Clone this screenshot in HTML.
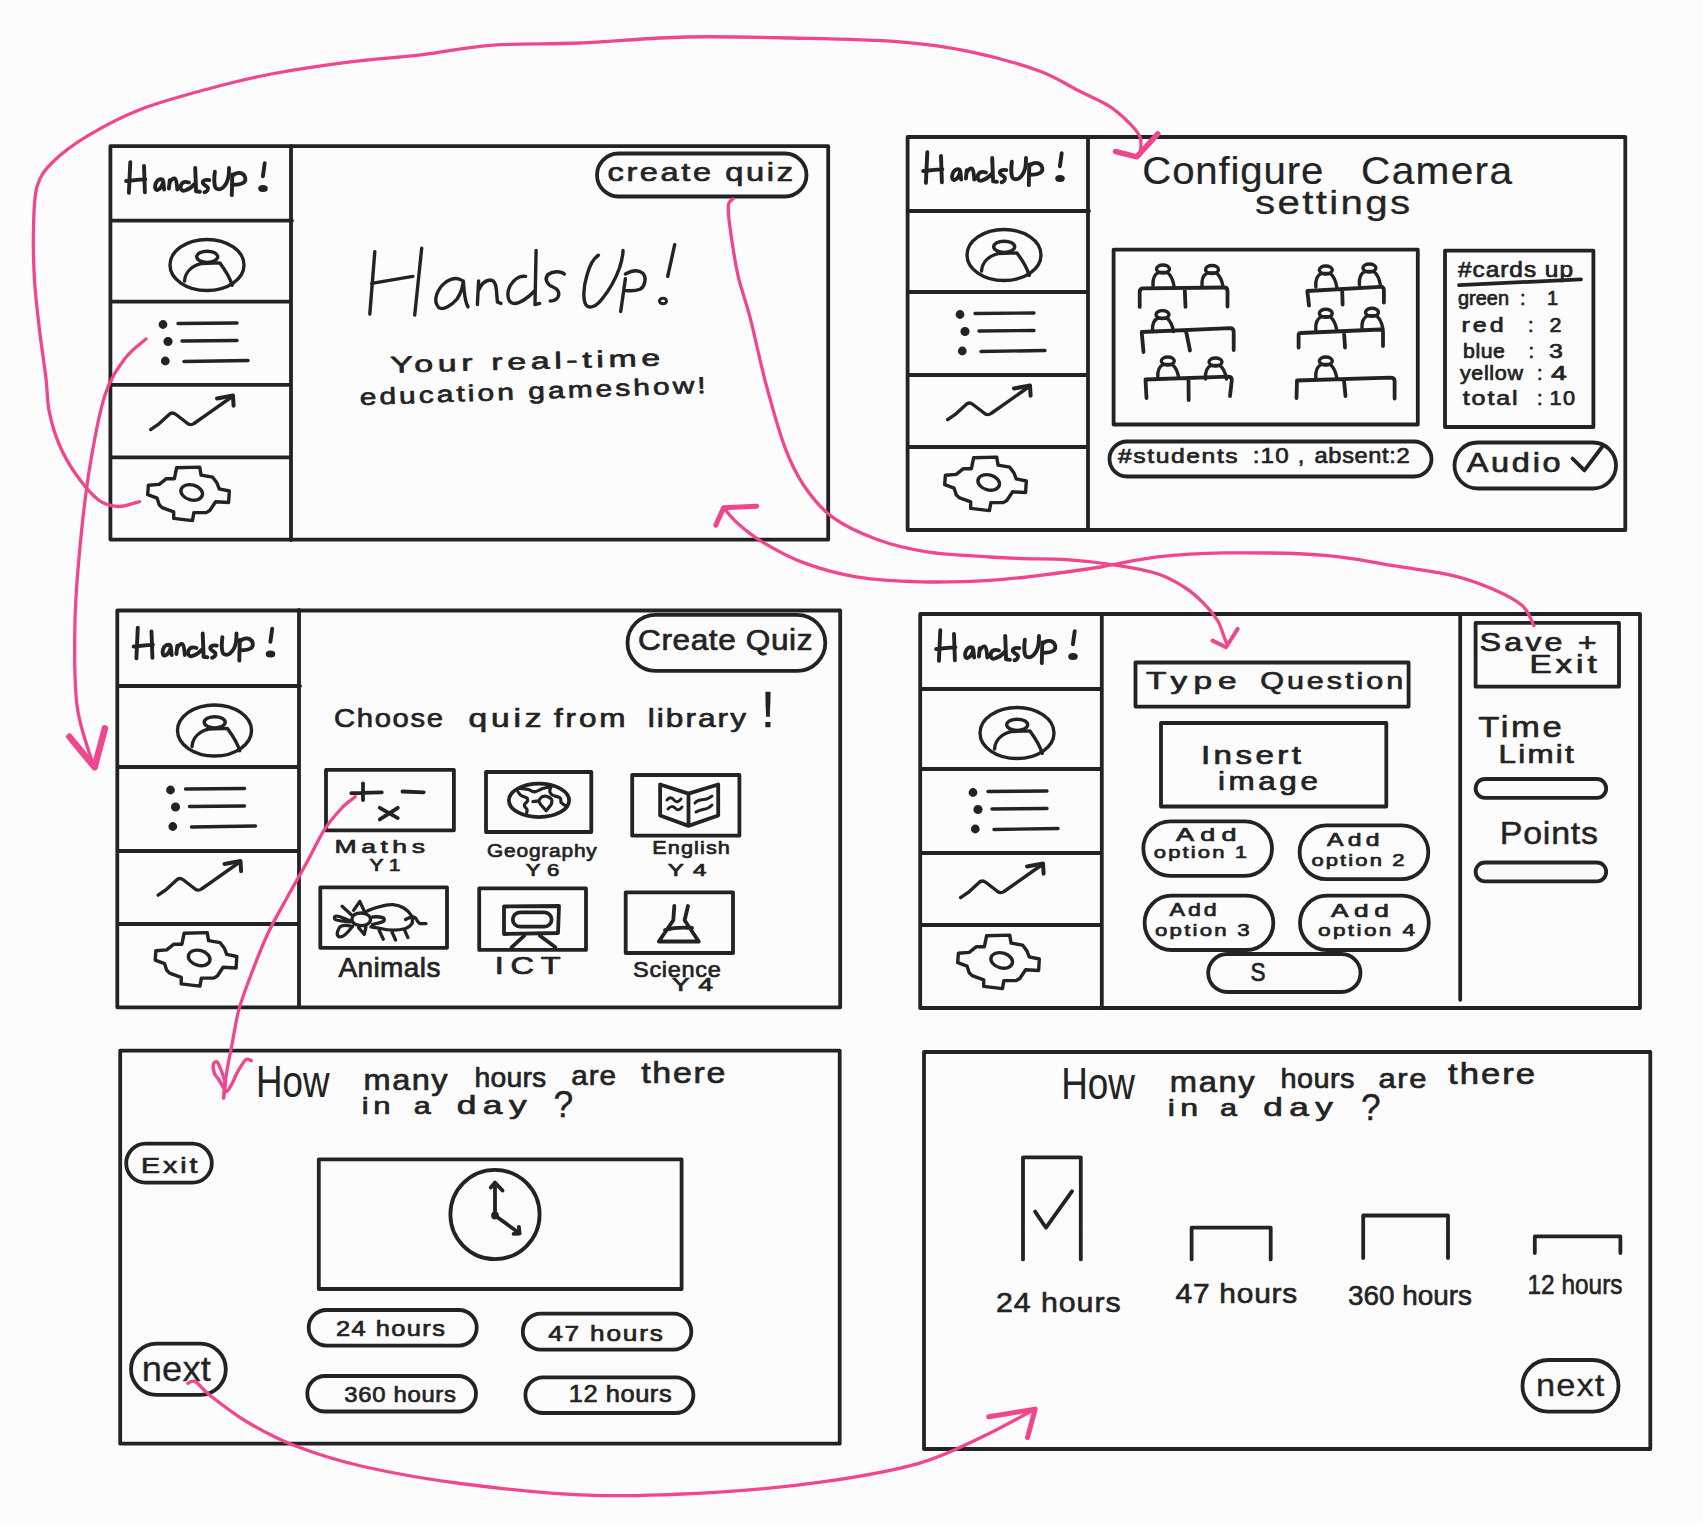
<!DOCTYPE html>
<html><head><meta charset="utf-8">
<style>
html,body{margin:0;padding:0;background:#fdfcfd;}
body{width:1703px;height:1523px;overflow:hidden;}
svg{display:block;}
text{font-family:"Liberation Sans",sans-serif;fill:#232323;}
</style></head>
<body>
<svg width="1703" height="1523" viewBox="0 0 1703 1523">

<defs>
<g id="icons" fill="none" stroke="#232323" stroke-width="3.4" stroke-linecap="round" stroke-linejoin="round">
  <!-- title HandsUp! -->
  <g stroke-width="3.9">
  <path d="M20.3 16.2 L18.9 46.8 M34 20 L34.9 46.3 M16.1 35 L35.4 33.1"/>
  <path d="M52.5 33.5 C50 32.5 46.5 34 45.5 38 C44.5 42 45.5 44.5 47.5 44 C50.5 43 53 39 53.2 35 L54.2 43.5"/>
  <path d="M59.8 34.1 L58.9 42.5 M59.5 37 C61 33.5 63.5 32 65 32.5 C66.5 33.5 67 39 67.3 43.5"/>
  <path d="M79 36.5 C76 35.5 72.5 35.5 71 39 C69.5 43 72 45.5 75 44.5 C78.5 43.5 82 41 84.5 38 M85.2 21.9 L86.1 45.4 L89.9 45.8"/>
  <path d="M99.3 34.1 C96.5 33.5 93 34 92.8 36.5 C92.8 39 96.5 39.5 97.8 41.5 C98.5 43.5 97 46 94.6 46.3"/>
  <path d="M104.9 25.6 C104.2 31 104 37 105 40.5 C106 43.5 109.5 44 112.4 42 C115.5 39.5 118 34 118.6 30 C119 27 119 24 119 21.9"/>
  <path d="M122.3 28.4 L121.8 49.1 M122.8 29.4 C125 27.5 129 26 132 27.5 C135.5 29.5 136.5 33.5 134.1 36.2 C131 38.5 126 38.8 122.8 38.8"/>
  <path d="M154.7 17.2 L152.9 30.3"/>
  </g>
  <ellipse cx="153" cy="42.5" rx="3.8" ry="2.6" fill="#232323" stroke-width="2"/>
  <!-- avatar -->
  <ellipse cx="97" cy="119" rx="37" ry="25.5"/>
  <ellipse cx="97.2" cy="110.8" rx="10.5" ry="5.6"/>
  <path d="M74.5 135 C75.2 125.6 82.4 119.8 91.1 117.6 L109.9 116.9 C114.2 122.7 120 131.3 122.2 139.3"/>
  <!-- list -->
  <circle cx="53" cy="178.5" r="2.7" fill="#232323"/>
  <circle cx="58" cy="195.5" r="2.9" fill="#232323"/>
  <circle cx="55.3" cy="215" r="2.7" fill="#232323"/>
  <path d="M68 177.5 L127 177"/>
  <path d="M72 195 L127 194.5"/>
  <path d="M74 215.5 L138 214.5"/>
  <!-- trend -->
  <path d="M40.6 283.6 L49 277.8 L60 267.7 C62 266.5 64 267 66 268.5 L77 277 C79 279 82 279 84 277.5 L97 268.4 L123 250"/>
  <path d="M107 252.5 L123 249.5 L123.6 259.7" stroke-width="4"/>
  <!-- gear -->
  <path d="M66.6 321.8 L89.7 321.1 L91.1 329.1 L102.7 331.2 L107 337 L109.2 342.8 L119.3 345 L118.6 356.5 L105.6 355.8 L99.8 364.5 L96.2 366.6 L83.9 366.6 L82.4 374.6 L63.7 372.4 L63.7 365.9 L52.1 361.6 L49.2 358.7 L47.1 352.2 L37.7 348.6 L38.4 339.2 L49.2 338.4 L56.4 332.7 L64.4 332.7 Z"/>
  <ellipse cx="81.7" cy="346.4" rx="11" ry="7.5" transform="rotate(15 81.7 346.4)"/>
</g>
<g id="person" fill="none" stroke="#232323" stroke-width="3.4" stroke-linecap="round" stroke-linejoin="round">
  <ellipse cx="0" cy="0" rx="6.5" ry="4"/>
  <path d="M-10 17 C-10.5 10 -8 5 -4.5 3.5 L4.5 3.5 C7.5 6 10 11 11 17"/>
</g>
</defs>

<g fill="none" stroke="#232323" stroke-width="3.8" stroke-linecap="round" stroke-linejoin="round">
  <!-- Frame 1 -->
  <rect x="110.4" y="146.2" width="717.8" height="393.4"/>
  <path d="M291 146 V540 M112 220.7 H292 M112 301.6 H291 M112 384.8 H291 M112 457.3 H291"/>
  <rect x="597" y="153.5" width="209.5" height="43" rx="21.5"/>
  <!-- Frame 2 -->
  <rect x="907.6" y="137" width="717.7" height="393"/>
  <path d="M1088 137 V530 M909 211 H1089 M908 292 H1088 M908 375 H1088 M908 447 H1088"/>
  <rect x="1113.6" y="249.7" width="304.2" height="174.8"/>
  <rect x="1445" y="250.6" width="148.4" height="176.4"/>
  <path d="M1459 285.2 L1581 279.3"/>
  <rect x="1109.5" y="441.5" width="322" height="35" rx="17.5"/>
  <rect x="1454.5" y="442.5" width="161.5" height="46" rx="23"/>
  <path d="M1572.5 458.5 L1584.4 470.4 L1602.4 446.5"/>
  <!-- desks -->
  <path d="M1139.7 306.9 L1139.7 292 Q1139.7 288.4 1143 288.4 L1224 287.5 Q1227.5 287.5 1227.5 291 L1227.5 306.5 M1184.7 288 L1185.5 306.9"/>
  <path d="M1143.5 352 L1141.7 332 L1230 328.2 Q1233.7 328.2 1233.7 332 L1233.7 350 M1186 331 L1190 350.5"/>
  <path d="M1146.5 398 L1145.5 379.5 L1228 376.6 Q1231.8 376.6 1231.8 380 L1230 396 M1188.5 379 L1188.7 400"/>
  <path d="M1309 305.5 L1307.3 291 L1380 286.8 Q1383.9 286.5 1383.9 290 L1383.9 302.5 M1342.2 290 L1342.6 304.5"/>
  <path d="M1298.6 347.5 L1298.6 335 Q1298.6 333 1301 333 L1380 329.5 Q1383 329.5 1383 332 L1383 346 M1344 332 L1345 347.5"/>
  <path d="M1296.5 398 L1297 380.5 L1390 377.6 Q1394.6 377.6 1394.6 381 L1394.6 398.5 M1344 380.5 L1345.5 396"/>
</g>
<use href="#person" x="1163" y="269"/>
<use href="#person" x="1212" y="269.5"/>
<use href="#person" x="1162.5" y="314.6"/>
<use href="#person" x="1167.8" y="361"/>
<use href="#person" x="1215.5" y="362"/>
<use href="#person" x="1325.8" y="270"/>
<use href="#person" x="1369.4" y="268"/>
<use href="#person" x="1325.8" y="313.3"/>
<use href="#person" x="1372" y="312.3"/>
<use href="#person" x="1325.8" y="361"/>

<g fill="none" stroke="#232323" stroke-width="3.8" stroke-linecap="round" stroke-linejoin="round">
  <!-- Frame 3 -->
  <rect x="117.3" y="610.5" width="722.9" height="396.8"/>
  <path d="M299 610 V1007 M118 686 H300 M118 767 H299 M118 851 H299 M118 924 H299"/>
  <rect x="627.5" y="614.8" width="197.8" height="56" rx="28"/>
  <rect x="326" y="769.8" width="127.9" height="60.5"/>
  <rect x="486" y="772" width="105.3" height="60"/>
  <rect x="632.2" y="775" width="107.2" height="60.7"/>
  <rect x="320.3" y="887.4" width="126.7" height="60.4"/>
  <rect x="479.2" y="888.4" width="106.8" height="61.5"/>
  <rect x="625.7" y="892.3" width="107.3" height="60.7"/>
  <!-- maths icon -->
  <path d="M351.3 793.1 L381.8 792.3 M363 783.3 L363 800 M402.5 791.5 L423.7 792.3 M379.8 807.8 L397.8 818.1 M397.8 807.8 L379.8 819.4"/>
  <!-- globe -->
  <ellipse cx="539" cy="800.4" rx="30.1" ry="16.7"/>
  <path d="M519.5 788.3 C524 788.5 527 789 529.3 789.7 C531 791 533 792 535 791.8 C538 791 541 789 543.4 788.3 C545.5 787.8 547.5 787.6 550.5 786.1 M518 791.8 C519 793.5 519.5 794.5 520.9 795.3 C523 797 526 797 527.2 798.1 C528 800 527.5 801.5 526.5 802.4 C525 803.5 524 804.5 524.4 805.9 C525 807.5 527 808.5 527.2 810.1 L526.5 813.6 M551.2 786.8 C550 789 549.5 792 550.5 793.2 C551.5 795 553 795.8 554.7 796 C557 796.5 559.5 797 560.3 798.1 C561.5 800 560.5 801.5 561 802.4 C562.5 804 564 805 566 805.9 M532.9 801.6 L538.5 800.9 C540 799 541 797 542 796.7 C544 796 546.5 796 547.7 796.7 C550.5 798 551.8 799.5 551.9 800.2 C552 802 551.8 803.5 551.2 804.5 L546.2 810.8 L540.6 804.5 L538.5 800.9" stroke-width="3.2"/>
  <!-- book -->
  <path d="M660.1 784.5 L688.5 793.6 L718.2 784.5 L718.2 815.5 L688.5 825.9 L660.1 815.5 Z M688.5 793.6 L688.5 825.9" />
  <path d="M667 800 C669 797 672 797 674 800 C676 803 679 802 681 799 M668 809 C670 806 673 806 675 808 C677 811 680 810 682 807 M695 803 C698 799 703 800 707 799 C709 798 711 797 712 796 M696 812 C700 809 704 810 708 808 C710 807 711 806 712 805" stroke-width="3"/>
  <!-- animals -->
  <path d="M353.6 910.4 L359.8 901.4 L364.3 911.2 M342.1 906.3 L352 915.4 M350.4 921.1 C345 919 338 915 335.6 916.2 C333.5 917.5 334.5 919.5 336.5 920 C340 921 346 921.5 350.4 921.9 M351.2 926 C346 925 340.5 925 339.2 928 C337.5 931 336.5 935 338.5 936.5 C341 938 345 936.5 352.8 926 M361.5 913 C367 913 371 916.5 370.5 920 C370 924 365 926 360 925.5 C354.5 925 351.5 922 352 918.5 C352.5 915 356 913 361.5 913 Z M372.6 917 C377 916.5 383 917 384.1 918.7 C385 920.5 383.5 921.5 382.4 921.9 C379 923 375 924 372.6 924.4 M358.6 927.7 L364.3 934.3 L366 926.9 M366.8 911.2 C371 909 376 907.5 380.8 906.3 C385 905 389 904.5 393.1 904.7 C397 905 400.5 906 403.8 908 C407 910 409.5 912.5 411.2 915.4 C412.5 918 412.8 921 412 923.6 C410.5 926 408 927.5 405.5 928.5 C401 929.8 397 930.2 393.1 930.2 C389 930.2 384.5 929.5 380.8 928.5 C377 927.8 374 927.3 370.9 926.9 M405.5 919.5 C408 918 410.5 917 412.9 917 C415 917 416 918.5 417 920.3 C418 922 419 923.6 420.3 923.6 L426 923.6 M379.1 930.2 L383.3 939.2 M391.5 931 L395.6 940 M404.6 930.2 L407.9 937.6" stroke-width="3.3"/>
  <!-- ICT -->
  <path d="M504 906.5 L559 906 L558 933 L504 934 Z"/>
  <rect x="512.8" y="912.4" width="38.8" height="14.2" rx="7.1"/>
  <path d="M511.5 947.3 L524.4 935.7 M540 935.7 L555.4 947.3"/>
  <!-- flask -->
  <path d="M674.3 906 L673.3 920.2 L658.8 941.5 L698.8 941.5 L684.6 920.2 L688 906 M665 930 C672 928 680 927 692 928"/>
  <!-- Frame 4 -->
  <rect x="920.2" y="614" width="719.8" height="394"/>
  <path d="M1101.8 614 V1008 M1460.2 614 V999.8 M921 689 H1102 M921 769 H1101 M921 853 H1101 M921 925 H1101"/>
  <rect x="1135.5" y="662.5" width="273.1" height="44.1"/>
  <rect x="1161" y="723" width="225.3" height="83.5"/>
  <rect x="1143.3" y="821.4" width="128.7" height="54.4" rx="27.2"/>
  <rect x="1299.6" y="825.4" width="128.7" height="53.8" rx="26.9"/>
  <rect x="1144.6" y="895.7" width="128.7" height="54.3" rx="27.1"/>
  <rect x="1300" y="895.7" width="128.8" height="54.3" rx="27.1"/>
  <rect x="1208.2" y="954" width="152.3" height="38" rx="19"/>
  <rect x="1475.6" y="622.9" width="143.4" height="63.8"/>
  <rect x="1475.6" y="779" width="130.6" height="18.9" rx="9.4"/>
  <rect x="1475.6" y="862.5" width="130.6" height="18.8" rx="9.4"/>
  <!-- Frame 5 -->
  <rect x="120.2" y="1050.7" width="719.5" height="393"/>
  <rect x="126.2" y="1143.6" width="85.6" height="39.1" rx="19.5"/>
  <rect x="131" y="1343.7" width="94.8" height="51.1" rx="25.5"/>
  <rect x="318.8" y="1159.3" width="362.8" height="129.7"/>
  <circle cx="495" cy="1214.5" r="44.6"/>
  <path d="M495 1215.5 L495 1183.3 M490.8 1187.5 L495 1182.6 L502.5 1190.5 M495 1215.5 L519.6 1233.5 M513.6 1233.8 L519.6 1233.5 L518.9 1226.8"/>
  <circle cx="495" cy="1215.5" r="2" fill="#232323"/>
  <rect x="308.7" y="1310" width="168" height="35.6" rx="17.8"/>
  <rect x="307.3" y="1376" width="168.7" height="35.5" rx="17.7"/>
  <rect x="522.8" y="1313.7" width="168.5" height="35.9" rx="17.9"/>
  <rect x="525.4" y="1377.3" width="168" height="35.7" rx="17.8"/>
  <!-- Frame 6 -->
  <rect x="924" y="1052" width="726.3" height="397"/>
  <path d="M1023 1259.4 V1157.3 H1080.8 V1259.4 M1035.1 1211.6 L1046 1227.7 L1072.1 1191.2"/>
  <path d="M1191.6 1259.4 V1227.7 H1270.7 V1259.4 M1363.2 1258 V1215.5 H1448 V1258 M1534.8 1253 V1236.4 H1620.4 V1253"/>
  <rect x="1522.5" y="1360" width="96" height="51.7" rx="25.8"/>
</g>
<use href="#icons" transform="translate(110,146)"/>
<use href="#icons" transform="translate(907,136)"/>
<use href="#icons" transform="translate(117.5,611.5)"/>
<use href="#icons" transform="translate(920,614)"/>
<!-- big title -->
<g fill="none" stroke="#232323" stroke-width="3.4" stroke-linecap="round" stroke-linejoin="round">
  <path d="M374.8 251.7 L369.8 314 M421.7 248.2 L414.7 315.1 M371.7 283.4 L412.8 276.4"/>
  <path d="M461 279.9 C457 277.5 452 278 446 282 C438 288 432 300 438.6 307.5 C443 311 452 305 457 299 C461 293 463 285 463.3 281 C464 292 465 302 468 306.9"/>
  <path d="M478.6 281 L477.4 304.6 M478.6 290.5 C481 284 485.6 280.5 490 280 C494 280 496 284 496.4 290 L497.4 302 L500.9 303.4"/>
  <path d="M525.6 276.4 C520 275.5 514 279 510 286 C506 294 508 303 514 303.4 C520 304 530 296 535 290.5 M536.1 250.5 L535 304.6 L539.6 303.4"/>
  <path d="M564.3 274 C561 271 553 271 548 274.5 C544 279 547 285 553 287 C558 289 560 293 558 297 C556 300.5 553 301 550.2 301"/>
  <path d="M598.4 255.2 C594 258 590 264 587 275 C583 288 583 300 586 305 C589 309 596 307 602 299 C611 288 617 275 619.5 268 C622 260 623 254 623 250.5"/>
  <path d="M625.4 278.7 L620.7 311.6 M625.4 274 C631 271 638 269.5 642.5 273 C647 277 645 286 640.6 289 C636 291 630 291 625.4 290.5"/>
  <path d="M674.7 244.7 L667.7 276.4"/>
</g>
<ellipse cx="663" cy="301" rx="3.5" ry="2.8" fill="none" stroke="#232323" stroke-width="3"/>

<g>
<text x="0" y="0" font-size="23" textLength="183.9" lengthAdjust="spacing" stroke="#232323" stroke-width="0.7" stroke-linejoin="round" transform="rotate(-1.5 390.5 372.7) translate(390.5 372.7) scale(1.468 1)">Your real-time</text>
<text x="0" y="0" font-size="23" textLength="266.4" lengthAdjust="spacing" stroke="#232323" stroke-width="0.7" stroke-linejoin="round" transform="rotate(-2 360 405) translate(360 405) scale(1.299 1)">education gameshow!</text>
<text x="0" y="0" font-size="26" textLength="147.9" lengthAdjust="spacing" stroke="#232323" stroke-width="0.7" stroke-linejoin="round" transform="translate(607.5 181.2) scale(1.254 1)">create quiz</text>
<text x="0" y="0" font-size="38" textLength="171.1" lengthAdjust="spacing" stroke="#232323" stroke-width="0.2" stroke-linejoin="round" transform="translate(1142.3 184) scale(1.058 1)">Configure</text>
<text x="0" y="0" font-size="38" textLength="141.3" lengthAdjust="spacing" stroke="#232323" stroke-width="0.2" stroke-linejoin="round" transform="translate(1361 184) scale(1.069 1)">Camera</text>
<text x="0" y="0" font-size="34" textLength="131.1" lengthAdjust="spacing" stroke="#232323" stroke-width="0.3" stroke-linejoin="round" transform="translate(1255 214) scale(1.183 1)">settings</text>
<text x="0" y="0" font-size="22" textLength="103.6" lengthAdjust="spacing" stroke="#232323" stroke-width="0.7" stroke-linejoin="round" transform="translate(1458 276.7) scale(1.110 1)">#cards up</text>
<text x="0" y="0" font-size="20" textLength="51" lengthAdjust="spacingAndGlyphs" stroke="#232323" stroke-width="0.7" stroke-linejoin="round" transform="translate(1458 305)">green</text>
<text x="0" y="0" font-size="20" stroke="#232323" stroke-width="0.7" stroke-linejoin="round" transform="translate(1520 305)">:</text>
<text x="0" y="0" font-size="20" stroke="#232323" stroke-width="0.7" stroke-linejoin="round" transform="translate(1547 305)">1</text>
<text x="0" y="0" font-size="20" textLength="33.6" lengthAdjust="spacing" stroke="#232323" stroke-width="0.7" stroke-linejoin="round" transform="translate(1461.6 332) scale(1.251 1)">red</text>
<text x="0" y="0" font-size="20" stroke="#232323" stroke-width="0.7" stroke-linejoin="round" transform="translate(1528 332)">:</text>
<text x="0" y="0" font-size="20" textLength="11.7" lengthAdjust="spacing" stroke="#232323" stroke-width="0.7" stroke-linejoin="round" transform="translate(1549.5 332) scale(1.072 1)">2</text>
<text x="0" y="0" font-size="20" textLength="39.4" lengthAdjust="spacing" stroke="#232323" stroke-width="0.7" stroke-linejoin="round" transform="translate(1463 358) scale(1.065 1)">blue</text>
<text x="0" y="0" font-size="20" stroke="#232323" stroke-width="0.7" stroke-linejoin="round" transform="translate(1528.6 358)">:</text>
<text x="0" y="0" font-size="20" textLength="12.9" lengthAdjust="spacing" stroke="#232323" stroke-width="0.7" stroke-linejoin="round" transform="translate(1549 358) scale(1.244 1)">3</text>
<text x="0" y="0" font-size="20" textLength="58.4" lengthAdjust="spacing" stroke="#232323" stroke-width="0.7" stroke-linejoin="round" transform="translate(1460 380) scale(1.078 1)">yellow</text>
<text x="0" y="0" font-size="20" stroke="#232323" stroke-width="0.7" stroke-linejoin="round" transform="translate(1537 380)">:</text>
<text x="0" y="0" font-size="20" textLength="14.1" lengthAdjust="spacing" stroke="#232323" stroke-width="0.7" stroke-linejoin="round" transform="translate(1551 380) scale(1.422 1)">4</text>
<text x="0" y="0" font-size="20" textLength="43.9" lengthAdjust="spacing" stroke="#232323" stroke-width="0.7" stroke-linejoin="round" transform="translate(1462.7 405) scale(1.252 1)">total</text>
<text x="0" y="0" font-size="20" stroke="#232323" stroke-width="0.7" stroke-linejoin="round" transform="translate(1537 405)">:</text>
<text x="0" y="0" font-size="20" textLength="23.5" lengthAdjust="spacing" stroke="#232323" stroke-width="0.7" stroke-linejoin="round" transform="translate(1549.5 405) scale(1.085 1)">10</text>
<text x="0" y="0" font-size="21" textLength="101.6" lengthAdjust="spacing" stroke="#232323" stroke-width="0.7" stroke-linejoin="round" transform="translate(1118 463) scale(1.178 1)">#students</text>
<text x="0" y="0" font-size="22" textLength="32.7" lengthAdjust="spacing" stroke="#232323" stroke-width="0.7" stroke-linejoin="round" transform="translate(1252.7 463) scale(1.103 1)">:10</text>
<text x="0" y="0" font-size="22" stroke="#232323" stroke-width="0.7" stroke-linejoin="round" transform="translate(1298 463)">,</text>
<text x="0" y="0" font-size="22" textLength="88.5" lengthAdjust="spacing" stroke="#232323" stroke-width="0.7" stroke-linejoin="round" transform="translate(1314.6 463) scale(1.074 1)">absent:2</text>
<text x="0" y="0" font-size="27" textLength="78.1" lengthAdjust="spacing" stroke="#232323" stroke-width="0.7" stroke-linejoin="round" transform="translate(1466.7 472) scale(1.203 1)">Audio</text>
<text x="0" y="0" font-size="30" textLength="165.7" lengthAdjust="spacing" stroke="#232323" stroke-width="0.7" stroke-linejoin="round" transform="translate(638 649.6) scale(1.053 1)">Create Quiz</text>
<text x="0" y="0" font-size="26" textLength="96.9" lengthAdjust="spacing" stroke="#232323" stroke-width="0.7" stroke-linejoin="round" transform="translate(334 727) scale(1.125 1)">Choose</text>
<text x="0" y="0" font-size="26" textLength="56.6" lengthAdjust="spacing" stroke="#232323" stroke-width="0.7" stroke-linejoin="round" transform="translate(468.5 727) scale(1.291 1)">quiz</text>
<text x="0" y="0" font-size="26" textLength="59.1" lengthAdjust="spacing" stroke="#232323" stroke-width="0.7" stroke-linejoin="round" transform="translate(554 727) scale(1.211 1)">from</text>
<text x="0" y="0" font-size="26" textLength="80.7" lengthAdjust="spacing" stroke="#232323" stroke-width="0.7" stroke-linejoin="round" transform="translate(647.7 727) scale(1.218 1)">library</text>
<text x="0" y="0" font-size="50" stroke="#232323" stroke-width="0.3" stroke-linejoin="round" transform="translate(761 727)">!</text>
<text x="0" y="0" font-size="19" textLength="64.7" lengthAdjust="spacing" stroke="#232323" stroke-width="0.7" stroke-linejoin="round" transform="translate(334.5 853) scale(1.398 1)">Maths</text>
<text x="0" y="0" font-size="16" textLength="23.5" lengthAdjust="spacing" stroke="#232323" stroke-width="0.7" stroke-linejoin="round" transform="translate(369.4 871) scale(1.318 1)">Y1</text>
<text x="0" y="0" font-size="19" textLength="100.0" lengthAdjust="spacing" stroke="#232323" stroke-width="0.7" stroke-linejoin="round" transform="translate(487 857) scale(1.098 1)">Geography</text>
<text x="0" y="0" font-size="16" textLength="24.3" lengthAdjust="spacing" stroke="#232323" stroke-width="0.7" stroke-linejoin="round" transform="translate(525.7 876.3) scale(1.383 1)">Y6</text>
<text x="0" y="0" font-size="19" textLength="68.0" lengthAdjust="spacing" stroke="#232323" stroke-width="0.7" stroke-linejoin="round" transform="translate(652.3 854.3) scale(1.141 1)">English</text>
<text x="0" y="0" font-size="16" textLength="25.7" lengthAdjust="spacing" stroke="#232323" stroke-width="0.7" stroke-linejoin="round" transform="translate(667.8 876.3) scale(1.507 1)">Y4</text>
<text x="0" y="0" font-size="27" textLength="98.4" lengthAdjust="spacing" stroke="#232323" stroke-width="0.7" stroke-linejoin="round" transform="translate(338.4 977) scale(1.037 1)">Animals</text>
<text x="0" y="0" font-size="23" textLength="46.7" lengthAdjust="spacing" stroke="#232323" stroke-width="0.7" stroke-linejoin="round" transform="translate(494.7 974.4) scale(1.414 1)">ICT</text>
<text x="0" y="0" font-size="22" textLength="82.0" lengthAdjust="spacing" stroke="#232323" stroke-width="0.7" stroke-linejoin="round" transform="translate(633 977) scale(1.071 1)">Science</text>
<text x="0" y="0" font-size="19" textLength="29.3" lengthAdjust="spacing" stroke="#232323" stroke-width="0.7" stroke-linejoin="round" transform="translate(671.7 991.2) scale(1.412 1)">Y4</text>
<text x="0" y="0" font-size="24" textLength="65.0" lengthAdjust="spacing" stroke="#232323" stroke-width="0.7" stroke-linejoin="round" transform="translate(1146 688.8) scale(1.395 1)">Type</text>
<text x="0" y="0" font-size="24" textLength="112.6" lengthAdjust="spacing" stroke="#232323" stroke-width="0.7" stroke-linejoin="round" transform="translate(1260.2 688.8) scale(1.270 1)">Question</text>
<text x="0" y="0" font-size="25" textLength="75.4" lengthAdjust="spacing" stroke="#232323" stroke-width="0.7" stroke-linejoin="round" transform="translate(1201 763.6) scale(1.325 1)">Insert</text>
<text x="0" y="0" font-size="25" textLength="79.4" lengthAdjust="spacing" stroke="#232323" stroke-width="0.7" stroke-linejoin="round" transform="translate(1218 790) scale(1.259 1)">image</text>
<text x="0" y="0" font-size="19" textLength="42.7" lengthAdjust="spacing" stroke="#232323" stroke-width="0.7" stroke-linejoin="round" transform="translate(1176 841) scale(1.419 1)">Add</text>
<text x="0" y="0" font-size="17" textLength="71.9" lengthAdjust="spacing" stroke="#232323" stroke-width="0.7" stroke-linejoin="round" transform="translate(1153.8 858) scale(1.296 1)">option 1</text>
<text x="0" y="0" font-size="19" textLength="40.3" lengthAdjust="spacing" stroke="#232323" stroke-width="0.7" stroke-linejoin="round" transform="translate(1327 846.4) scale(1.304 1)">Add</text>
<text x="0" y="0" font-size="17" textLength="71.9" lengthAdjust="spacing" stroke="#232323" stroke-width="0.7" stroke-linejoin="round" transform="translate(1311.4 866) scale(1.295 1)">option 2</text>
<text x="0" y="0" font-size="19" textLength="38.6" lengthAdjust="spacing" stroke="#232323" stroke-width="0.7" stroke-linejoin="round" transform="translate(1169.6 916) scale(1.222 1)">Add</text>
<text x="0" y="0" font-size="17" textLength="72.4" lengthAdjust="spacing" stroke="#232323" stroke-width="0.7" stroke-linejoin="round" transform="translate(1155 935.7) scale(1.308 1)">option 3</text>
<text x="0" y="0" font-size="19" textLength="41.9" lengthAdjust="spacing" stroke="#232323" stroke-width="0.7" stroke-linejoin="round" transform="translate(1331 917) scale(1.381 1)">Add</text>
<text x="0" y="0" font-size="17" textLength="73.1" lengthAdjust="spacing" stroke="#232323" stroke-width="0.7" stroke-linejoin="round" transform="translate(1318 935.7) scale(1.327 1)">option 4</text>
<text x="0" y="0" font-size="25" textLength="15" lengthAdjust="spacingAndGlyphs" stroke="#232323" stroke-width="0.7" stroke-linejoin="round" transform="translate(1250.5 980.5)">S</text>
<text x="0" y="0" font-size="26" textLength="94.3" lengthAdjust="spacing" stroke="#232323" stroke-width="0.7" stroke-linejoin="round" transform="translate(1479.6 651) scale(1.241 1)">Save +</text>
<text x="0" y="0" font-size="25" textLength="50.5" lengthAdjust="spacing" stroke="#232323" stroke-width="0.7" stroke-linejoin="round" transform="translate(1529.4 672.7) scale(1.333 1)">Exit</text>
<text x="0" y="0" font-size="30" textLength="72.2" lengthAdjust="spacing" stroke="#232323" stroke-width="0.6" stroke-linejoin="round" transform="translate(1478.3 737.3) scale(1.155 1)">Time</text>
<text x="0" y="0" font-size="26" textLength="62.3" lengthAdjust="spacing" stroke="#232323" stroke-width="0.7" stroke-linejoin="round" transform="translate(1498.5 762.9) scale(1.209 1)">Limit</text>
<text x="0" y="0" font-size="32" textLength="92.5" lengthAdjust="spacing" stroke="#232323" stroke-width="0.5" stroke-linejoin="round" transform="translate(1499.8 843.6) scale(1.061 1)">Points</text>
<text x="0" y="0" font-size="44" textLength="73.5" lengthAdjust="spacingAndGlyphs" stroke="#232323" stroke-width="0.1" stroke-linejoin="round" transform="translate(256 1097.3)">How</text>
<text x="0" y="0" font-size="30" textLength="77.4" lengthAdjust="spacing" stroke="#232323" stroke-width="0.7" stroke-linejoin="round" transform="translate(363.6 1090) scale(1.085 1)">many</text>
<text x="0" y="0" font-size="28" textLength="70.7" lengthAdjust="spacing" stroke="#232323" stroke-width="0.7" stroke-linejoin="round" transform="translate(474.6 1086.6) scale(1.014 1)">hours</text>
<text x="0" y="0" font-size="28" textLength="42.1" lengthAdjust="spacing" stroke="#232323" stroke-width="0.7" stroke-linejoin="round" transform="translate(571.3 1084.8) scale(1.061 1)">are</text>
<text x="0" y="0" font-size="30" textLength="74.3" lengthAdjust="spacing" stroke="#232323" stroke-width="0.7" stroke-linejoin="round" transform="translate(641.2 1083) scale(1.133 1)">there</text>
<text x="0" y="0" font-size="24" textLength="22.2" lengthAdjust="spacing" stroke="#232323" stroke-width="0.7" stroke-linejoin="round" transform="translate(361.8 1113.5) scale(1.291 1)">in</text>
<text x="0" y="0" font-size="24" textLength="15.7" lengthAdjust="spacing" stroke="#232323" stroke-width="0.7" stroke-linejoin="round" transform="translate(413.8 1113.5) scale(1.274 1)">a</text>
<text x="0" y="0" font-size="26" textLength="51.5" lengthAdjust="spacing" stroke="#232323" stroke-width="0.7" stroke-linejoin="round" transform="translate(456.7 1113.5) scale(1.360 1)">day</text>
<text x="0" y="0" font-size="36" textLength="19.7" lengthAdjust="spacingAndGlyphs" stroke="#232323" stroke-width="0.4" stroke-linejoin="round" transform="translate(553.6 1117)">?</text>
<text x="0" y="0" font-size="22" textLength="43.6" lengthAdjust="spacing" stroke="#232323" stroke-width="0.7" stroke-linejoin="round" transform="translate(141 1172.5) scale(1.296 1)">Exit</text>
<text x="0" y="0" font-size="36" textLength="68.4" lengthAdjust="spacing" stroke="#232323" stroke-width="0.3" stroke-linejoin="round" transform="translate(141.8 1380.5) scale(1.008 1)">next</text>
<text x="0" y="0" font-size="22" textLength="94.3" lengthAdjust="spacing" stroke="#232323" stroke-width="0.7" stroke-linejoin="round" transform="translate(336 1335.6) scale(1.156 1)">24 hours</text>
<text x="0" y="0" font-size="22" textLength="103.2" lengthAdjust="spacing" stroke="#232323" stroke-width="0.7" stroke-linejoin="round" transform="translate(344.2 1402) scale(1.083 1)">360 hours</text>
<text x="0" y="0" font-size="22" textLength="96.2" lengthAdjust="spacing" stroke="#232323" stroke-width="0.7" stroke-linejoin="round" transform="translate(548.2 1340.7) scale(1.191 1)">47 hours</text>
<text x="0" y="0" font-size="24" textLength="97.1" lengthAdjust="spacing" stroke="#232323" stroke-width="0.7" stroke-linejoin="round" transform="translate(568.7 1402) scale(1.060 1)">12 hours</text>
<text x="0" y="0" font-size="44" textLength="73.8" lengthAdjust="spacingAndGlyphs" stroke="#232323" stroke-width="0.1" stroke-linejoin="round" transform="translate(1061.2 1098.7)">How</text>
<text x="0" y="0" font-size="30" textLength="77.7" lengthAdjust="spacing" stroke="#232323" stroke-width="0.7" stroke-linejoin="round" transform="translate(1169.8 1092) scale(1.091 1)">many</text>
<text x="0" y="0" font-size="28" textLength="71.6" lengthAdjust="spacing" stroke="#232323" stroke-width="0.7" stroke-linejoin="round" transform="translate(1280.6 1087.8) scale(1.033 1)">hours</text>
<text x="0" y="0" font-size="28" textLength="43.3" lengthAdjust="spacing" stroke="#232323" stroke-width="0.7" stroke-linejoin="round" transform="translate(1378.5 1087.8) scale(1.108 1)">are</text>
<text x="0" y="0" font-size="30" textLength="75.3" lengthAdjust="spacing" stroke="#232323" stroke-width="0.7" stroke-linejoin="round" transform="translate(1448 1083.5) scale(1.155 1)">there</text>
<text x="0" y="0" font-size="24" textLength="22.7" lengthAdjust="spacing" stroke="#232323" stroke-width="0.7" stroke-linejoin="round" transform="translate(1167.7 1116) scale(1.336 1)">in</text>
<text x="0" y="0" font-size="24" textLength="15.7" lengthAdjust="spacing" stroke="#232323" stroke-width="0.7" stroke-linejoin="round" transform="translate(1220 1116) scale(1.274 1)">a</text>
<text x="0" y="0" font-size="26" textLength="51.3" lengthAdjust="spacing" stroke="#232323" stroke-width="0.7" stroke-linejoin="round" transform="translate(1263.3 1116) scale(1.354 1)">day</text>
<text x="0" y="0" font-size="36" textLength="19.6" lengthAdjust="spacingAndGlyphs" stroke="#232323" stroke-width="0.4" stroke-linejoin="round" transform="translate(1361 1120)">?</text>
<text x="0" y="0" font-size="28" textLength="115.0" lengthAdjust="spacing" stroke="#232323" stroke-width="0.6" stroke-linejoin="round" transform="translate(996 1311.6) scale(1.084 1)">24 hours</text>
<text x="0" y="0" font-size="28" textLength="113.9" lengthAdjust="spacing" stroke="#232323" stroke-width="0.6" stroke-linejoin="round" transform="translate(1175.5 1302.9) scale(1.069 1)">47 hours</text>
<text x="0" y="0" font-size="28" textLength="124" lengthAdjust="spacingAndGlyphs" stroke="#232323" stroke-width="0.6" stroke-linejoin="round" transform="translate(1348 1305)">360 hours</text>
<text x="0" y="0" font-size="28" textLength="95" lengthAdjust="spacingAndGlyphs" stroke="#232323" stroke-width="0.6" stroke-linejoin="round" transform="translate(1527.5 1294.2)">12 hours</text>
<text x="0" y="0" font-size="32" textLength="63.5" lengthAdjust="spacing" stroke="#232323" stroke-width="0.3" stroke-linejoin="round" transform="translate(1536 1396) scale(1.075 1)">next</text>
</g>
<g fill="none" stroke="#f0468e" stroke-width="3.3" stroke-linecap="round" stroke-linejoin="round">
<path d="M139.5 501.6 C135.9 502.4 125.0 506.8 118.2 506.5 C111.4 506.2 105.6 505.5 98.5 500.0 C91.4 494.5 82.1 483.0 75.5 473.7 C68.9 464.4 63.4 454.4 59.0 444.0 C54.6 433.6 51.4 422.2 49.2 411.3 C47.0 400.4 47.6 392.2 46.0 378.5 C44.4 364.8 41.3 345.6 39.4 329.2 C37.5 312.8 35.5 296.7 34.5 280.0 C33.5 263.3 33.1 244.6 33.5 229.0 C33.9 213.4 33.8 197.9 37.0 186.7 C40.2 175.5 44.3 170.5 52.8 162.0 C61.3 153.5 73.3 144.4 88.0 135.6 C102.7 126.8 120.4 117.1 141.0 109.2 C161.6 101.3 189.7 93.9 211.4 88.0 C233.1 82.1 247.8 78.4 271.3 74.0 C294.8 69.6 327.1 64.9 352.3 61.7 C377.6 58.5 399.4 57.4 422.8 54.6 C446.2 51.8 466.8 47.0 493.0 45.1 C519.2 43.2 547.9 44.4 580.0 43.0 C612.1 41.6 650.5 37.8 685.7 37.0 C720.9 36.2 756.2 37.2 791.4 38.0 C826.6 38.8 867.8 39.4 897.1 41.6 C926.5 43.8 944.0 46.3 967.5 51.1 C991.0 55.9 1019.2 63.8 1038.0 70.5 C1056.8 77.2 1068.5 85.7 1080.3 91.6 C1092.0 97.5 1100.3 100.4 1108.5 105.7 C1116.7 111.0 1124.3 118.0 1129.6 123.3 C1134.9 128.6 1138.4 132.1 1140.2 137.4 C1142.0 142.7 1140.2 152.1 1140.2 155.0"/>
<path d="M1115.5 151.5 L1136.7 156.8 L1157.8 133.9" stroke-width="5.5"/>
<path d="M146.0 339.0 C142.5 342.3 131.6 349.5 124.8 358.8 C118.0 368.1 110.8 377.4 105.0 394.9 C99.2 412.4 94.4 439.2 90.3 463.8 C86.2 488.4 83.0 515.8 80.4 542.6 C77.8 569.4 75.4 597.3 74.9 624.7 C74.4 652.1 74.1 683.3 77.2 706.8 C80.3 730.3 90.9 756.0 93.6 765.9"/>
<path d="M69.4 736.8 L94.6 767.3 L104.9 728.4" stroke-width="6.5"/>
<path d="M733.1 198.9 C732.3 199.9 728.9 200.5 728.4 205.2 C727.9 209.9 728.4 215.7 730.0 227.3 C731.6 238.9 734.4 259.4 737.8 274.6 C741.2 289.8 745.7 300.3 750.4 318.7 C755.1 337.1 760.4 363.4 766.2 384.9 C772.0 406.4 778.8 431.1 785.1 447.9 C791.4 464.7 796.1 474.1 804.0 485.7 C811.9 497.2 820.3 508.3 832.4 517.2 C844.5 526.1 860.8 533.5 876.5 539.3 C892.2 545.1 908.0 548.9 926.9 551.9 C945.8 554.9 973.9 555.9 990.0 557.0 C1006.1 558.1 1010.7 558.2 1023.5 558.6 C1036.3 559.0 1051.4 558.5 1067.0 559.6 C1082.6 560.7 1102.1 562.9 1117.2 565.3 C1132.3 567.6 1146.2 570.1 1157.4 573.7 C1168.6 577.3 1176.3 582.0 1184.1 587.0 C1191.9 592.0 1198.6 598.2 1204.2 603.8 C1209.8 609.4 1214.2 614.9 1217.6 620.5 C1220.9 626.1 1222.6 633.1 1224.3 637.3 C1226.0 641.5 1227.0 644.2 1227.6 645.6"/>
<path d="M1212.6 640.6 L1226.0 647.3 L1237.7 628.9" stroke-width="4"/>
<path d="M1533.9 625.6 C1532.0 622.2 1529.2 611.6 1522.2 605.5 C1515.2 599.4 1503.7 593.7 1492.0 588.7 C1480.3 583.7 1468.6 579.2 1451.9 575.3 C1435.2 571.4 1412.8 568.6 1391.6 565.3 C1370.4 562.0 1352.6 557.4 1324.7 555.3 C1296.8 553.2 1252.2 552.6 1224.3 552.9 C1196.4 553.2 1178.0 554.5 1157.4 556.9 C1136.8 559.2 1120.0 563.9 1100.5 567.0 C1081.0 570.1 1058.6 573.1 1040.2 575.3 C1021.8 577.5 1009.9 579.3 990.0 580.4 C970.1 581.5 942.7 582.3 920.6 581.8 C898.5 581.2 877.0 580.2 857.6 577.1 C838.2 574.0 819.8 568.7 804.0 562.9 C788.2 557.1 774.0 549.0 763.0 542.4 C752.0 535.8 744.4 529.3 737.8 523.5 C731.2 517.7 726.0 510.4 723.6 507.8"/>
<path d="M715.8 525.1 L723.6 507.8 L756.7 506.2" stroke-width="5"/>
<path d="M355.2 796.8 C353.0 798.7 347.0 802.4 341.8 808.0 C336.6 813.6 329.9 821.0 324.0 830.3 C318.1 839.6 312.4 852.3 306.1 863.8 C299.8 875.3 292.3 888.0 286.0 899.5 C279.7 911.0 273.7 921.1 268.1 933.0 C262.5 944.9 257.3 958.2 252.5 970.9 C247.7 983.5 242.4 997.0 239.1 1008.9 C235.8 1020.8 234.4 1032.0 232.4 1042.4 C230.4 1052.8 228.3 1062.1 226.8 1071.4 C225.3 1080.7 224.1 1093.7 223.5 1098.2"/>
<path d="M223.6 1097.5 C223.8 1095.0 225.3 1087.2 224.9 1082.6 C224.5 1078.0 222.3 1073.4 221.0 1070.0 C219.7 1066.6 218.4 1062.9 217.1 1062.0 C215.8 1061.1 213.7 1062.6 213.3 1064.5 C212.9 1066.4 213.6 1071.0 214.5 1073.6 C215.4 1076.2 217.5 1077.6 219.0 1080.0 C220.5 1082.4 222.4 1085.8 223.6 1087.8 C224.8 1089.8 224.9 1092.1 226.2 1091.7 C227.5 1091.3 229.7 1088.0 231.3 1085.2 C232.9 1082.4 234.5 1078.0 236.0 1075.0 C237.5 1072.0 238.7 1069.7 240.4 1067.1 C242.1 1064.5 244.4 1060.5 246.2 1059.4 C248.0 1058.3 250.5 1060.5 251.4 1060.7" stroke-width="3.4"/>
<path d="M187.8 1383.3 C189.1 1383.0 191.6 1379.5 195.5 1381.7 C199.4 1383.9 202.4 1389.5 211.0 1396.2 C219.6 1402.9 233.4 1413.8 247.2 1422.0 C261.0 1430.2 274.8 1438.0 293.7 1445.3 C312.6 1452.6 332.5 1459.5 360.9 1466.0 C389.3 1472.5 425.4 1479.1 464.2 1484.0 C502.9 1488.9 550.3 1494.1 593.4 1495.4 C636.5 1496.7 683.9 1494.1 722.6 1491.8 C761.4 1489.5 793.2 1486.2 825.9 1481.4 C858.6 1476.7 893.1 1470.6 919.0 1463.3 C944.9 1456.0 961.6 1446.5 981.0 1437.5 C1000.4 1428.5 1026.2 1413.8 1035.2 1409.1"/>
<path d="M988.7 1416.8 L1035.2 1409.1 L1027.5 1437.5" stroke-width="5"/>
</g>
</svg>
</body></html>
